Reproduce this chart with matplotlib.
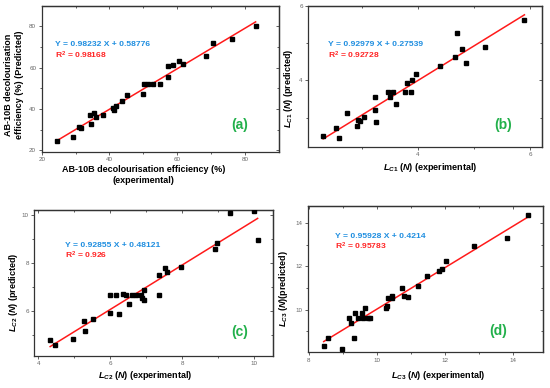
import numpy as np
import matplotlib.pyplot as plt

plt.rcParams['font.family'] = ['Liberation Sans', 'DejaVu Sans']
plt.rcParams['mathtext.fontset'] = 'custom'
plt.rcParams['mathtext.it'] = 'Liberation Sans:italic:bold'
plt.rcParams['mathtext.rm'] = 'Liberation Sans:bold'
plt.rcParams['mathtext.bf'] = 'Liberation Sans:bold'

# (a) AB-10B decolourisation efficiency (%)
a_exp = [24.4, 29.1, 30.9, 31.7, 34.2, 34.4, 35.5, 36.0, 38.1, 41.0, 41.4, 41.9, 43.7, 45.2,
         49.9, 50.2, 51.5, 52.8, 54.8, 57.3, 57.4, 58.6, 60.6, 61.6, 68.5, 70.6, 76.1, 83.1]
a_pred = [24.4, 26.5, 31.3, 30.6, 37.3, 32.9, 38.1, 36.3, 37.3, 40.6, 39.7, 41.3, 43.9, 46.9,
          47.1, 52.1, 52.1, 52.1, 52.1, 55.5, 60.6, 61.3, 63.5, 61.6, 65.5, 72.1, 74.0, 80.0]
a_fit = [0.98232, 0.58776]
a_r2 = '0.98168'

# (b) L_C1
b_exp = [2.315, 2.595, 2.548, 2.744, 2.911, 2.929, 2.976, 3.048, 3.238, 3.238, 3.25, 3.464, 3.5,
         3.554, 3.613, 3.774, 3.798, 3.869, 3.887, 3.964, 4.387, 4.667, 4.69, 4.786, 4.863, 5.19, 5.893]
b_pred = [2.51, 2.45, 2.72, 3.13, 2.77, 2.93, 2.91, 3.01, 3.56, 3.20, 2.87, 3.68, 3.56,
          3.68, 3.36, 3.68, 3.92, 3.68, 4.01, 4.16, 4.37, 4.62, 5.28, 4.84, 4.47, 4.88, 5.61]
b_fit = [0.92979, 0.27539]
b_r2 = '0.92728'

# (c) L_C2
c_exp = [4.33, 4.47, 4.96, 5.26, 5.31, 5.51, 5.98, 5.98, 6.15, 6.25, 6.35, 6.43, 6.53, 6.60, 6.70,
         6.84, 6.87, 6.93, 6.93, 7.34, 7.36, 7.53, 7.58, 7.96, 8.91, 8.96, 9.31, 10.0, 10.09]
c_pred = [4.78, 4.56, 4.81, 5.56, 5.17, 5.65, 6.67, 5.92, 6.67, 5.86, 6.69, 6.65, 6.28, 6.67, 6.67,
          6.67, 6.53, 6.44, 6.88, 7.50, 6.67, 7.76, 7.61, 7.81, 8.57, 8.82, 10.06, 10.14, 8.96]
c_fit = [0.92855, 0.48121]
c_r2 = '0.926'

# (d) L_C3
d_exp = [8.44, 8.57, 8.98, 9.19, 9.25, 9.33, 9.37, 9.46, 9.58, 9.61, 9.66, 9.74, 9.79, 10.27, 10.31,
         10.34, 10.44, 10.46, 10.75, 10.80, 10.93, 11.22, 11.47, 11.83, 11.92, 12.05, 12.85, 13.83, 14.44]
d_pred = [8.32, 8.70, 8.18, 9.60, 9.38, 8.69, 9.86, 9.60, 9.86, 9.60, 10.09, 9.60, 9.60, 10.08, 10.15,
          10.53, 10.53, 10.62, 11.00, 10.62, 10.56, 11.10, 11.56, 11.78, 11.88, 12.25, 12.92, 13.29, 14.39]
d_fit = [0.95928, 0.4214]
d_r2 = '0.95783'

panels = [
    dict(x=a_exp, y=a_pred, fit=a_fit, r2=a_r2, tag='(a)',
         pos=[0.0758, 0.609, 0.4315, 0.376], xlim=(20, 90), ylim=(19.3, 90),
         xt=[20, 40, 60, 80], xm=[30, 50, 70], yt=[20, 40, 60, 80], ym=[30, 50, 70],
         xlab='AB-10B decolourisation efficiency (%)\n(experimental)', xlp=(0.428, -0.159),
         ylab='AB-10B decolourisation\nefficiency (%) (Predicted)', ylp=(-0.116, 0.457),
         eq=(0.056, 0.736, 0.662), tp=(0.836, 0.183)),
    dict(x=b_exp, y=b_pred, fit=b_fit, r2=b_r2, tag='(b)',
         pos=[0.5605, 0.622, 0.4244, 0.3634], xlim=(2.05, 6.2), ylim=(2.22, 6),
         xt=[4, 6], xm=[3, 5], yt=[4, 6], ym=[3, 5],
         xlab=r'$L_{C\mathit{1}}$ ($N$) (experimental)', xlp=(0.521, -0.151),
         ylab=r'$L_{C\mathit{1}}$ ($N$) (predicted)', ylp=(-0.086, 0.414),
         eq=(0.086, 0.726, 0.65), tp=(0.835, 0.154)),
    dict(x=c_exp, y=c_pred, fit=c_fit, r2=c_r2, tag='(c)',
         pos=[0.0624, 0.0832, 0.4335, 0.3755], xlim=(3.89, 10.51), ylim=(4.12, 10.2),
         xt=[4, 6, 8, 10], xm=[5, 7, 9], yt=[6, 8, 10], ym=[5, 7, 9],
         xlab=r'$L_{C\mathit{2}}$ ($N$) (experimental)', xlp=(0.464, -0.137),
         ylab=r'$L_{C\mathit{2}}$ ($N$) (predicted)', ylp=(-0.088, 0.435),
         eq=(0.129, 0.755, 0.686), tp=(0.862, 0.16)),
    dict(x=d_exp, y=d_pred, fit=d_fit, r2=d_r2, tag='(d)',
         pos=[0.5595, 0.092, 0.4284, 0.377], xlim=(7.97, 14.9), ylim=(8.02, 14.79),
         xt=[8, 10, 12, 14], xm=[9, 11, 13], yt=[10, 12, 14], ym=[9, 11, 13],
         xlab=r'$L_{C\mathit{3}}$ ($N$) (experimental)', xlp=(0.554, -0.16),
         ylab=r'$L_{C\mathit{3}}$ ($N$)(predicted)', ylp=(-0.104, 0.433),
         eq=(0.116, 0.79, 0.722), tp=(0.809, 0.148)),
]

fig = plt.figure(figsize=(5.5, 3.88), dpi=100)
for p in panels:
    ax = fig.add_axes(p['pos'])
    x = np.array(p['x'])
    y = np.array(p['y'])
    ax.plot(x, y, 's', color='black', ms=3, zorder=3)
    xx = np.array([x.min(), x.max()])
    ax.plot(xx, p['fit'][0] * xx + p['fit'][1], color='#ff1a1a', lw=1.1, zorder=2)
    ax.set_xlim(p['xlim'])
    ax.set_ylim(p['ylim'])
    ax.set_xticks(p['xt'])
    ax.set_xticks(p['xm'], minor=True)
    ax.set_yticks(p['yt'])
    ax.set_yticks(p['ym'], minor=True)
    ax.tick_params(which='both', direction='out', labelsize=4.5, labelcolor='#666666',
                   color='#444444', width=0.6, pad=1.5)
    ax.tick_params(which='major', length=2.5)
    ax.tick_params(which='minor', length=1.5)
    # mirrored ticks on top and right, pointing in, no labels
    top = ax.secondary_xaxis('top')
    top.set_xticks(p['xt'])
    top.set_xticks(p['xm'], minor=True)
    top.tick_params(which='both', direction='in', labeltop=False, color='#444444', width=0.6)
    top.tick_params(which='major', length=2.5)
    top.tick_params(which='minor', length=1.5)
    right = ax.secondary_yaxis('right')
    right.set_yticks(p['yt'])
    right.set_yticks(p['ym'], minor=True)
    right.tick_params(which='both', direction='in', labelright=False, color='#444444', width=0.6)
    right.tick_params(which='major', length=2.5)
    right.tick_params(which='minor', length=1.5)
    for s in list(ax.spines.values()) + [top.spines['top'], right.spines['right']]:
        s.set_linewidth(0.9)
        s.set_color('#333333')
    ax.text(p['xlp'][0], p['xlp'][1], p['xlab'], transform=ax.transAxes, ha='center',
            va='center', fontsize=6.5, fontweight='bold', linespacing=1.3)
    ax.text(p['ylp'][0], p['ylp'][1], p['ylab'], transform=ax.transAxes, ha='center',
            va='center', rotation=90, fontsize=6.5, fontweight='bold', linespacing=1.3)
    ax.text(p['eq'][0], p['eq'][1], 'Y = %s X + %s' % (p['fit'][0], p['fit'][1]),
            transform=ax.transAxes, ha='left', va='center', fontsize=6.1,
            fontweight='bold', color='#1f8ee0')
    ax.text(p['eq'][0], p['eq'][2], r'R$^{\mathbf{2}}$ = ' + p['r2'],
            transform=ax.transAxes, ha='left', va='center', fontsize=6.1,
            fontweight='bold', color='#ff2626')
    ax.text(p['tp'][0], p['tp'][1], p['tag'], transform=ax.transAxes, ha='center',
            va='center', fontsize=10, fontweight='bold', color='#22b04b')

plt.savefig('out.png', dpi=100)
